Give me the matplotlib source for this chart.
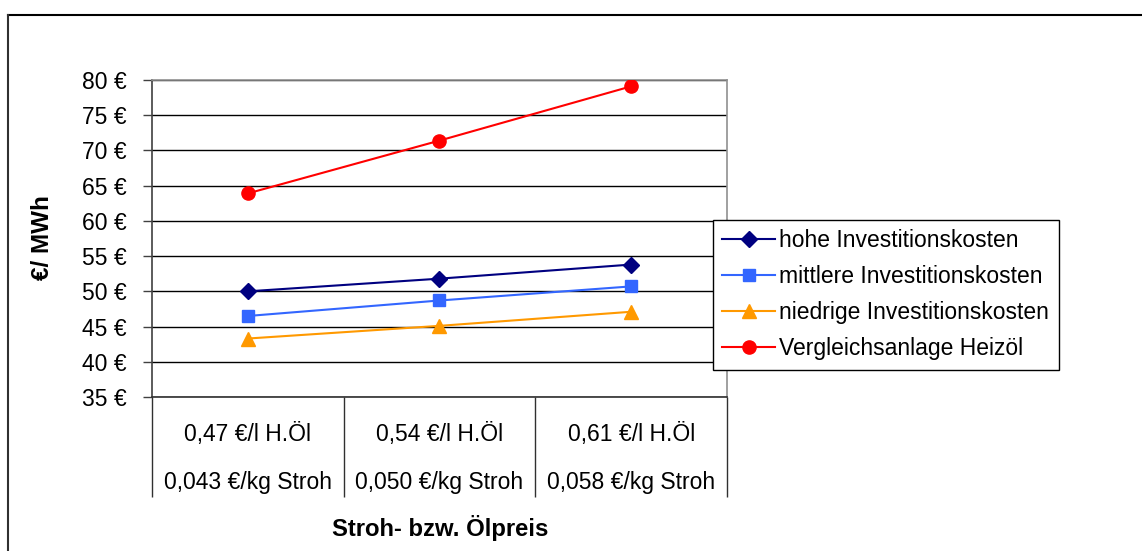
import matplotlib.pyplot as plt
from matplotlib.lines import Line2D

plt.rcParams['font.family'] = ['Liberation Sans', 'DejaVu Sans']

oel_preis = ['0,47 €/l H.Öl', '0,54 €/l H.Öl', '0,61 €/l H.Öl']
stroh_preis = ['0,043 €/kg Stroh', '0,050 €/kg Stroh', '0,058 €/kg Stroh']

hohe = [50.0, 51.8, 53.8]
mittlere = [46.5, 48.7, 50.7]
niedrige = [43.3, 45.1, 47.1]
heizoel = [63.9, 71.4, 79.1]

y_ticks = [35, 40, 45, 50, 55, 60, 65, 70, 75, 80]

W, H = 1142, 551
fig = plt.figure(figsize=(W / 100, H / 100), dpi=100)
ax = fig.add_axes([152 / W, 1 - 397 / H, (727 - 152) / W, (397 - 80) / H])

x = list(range(len(oel_preis)))
fs = 16.5

ax.plot(x, hohe, color='#000080', marker='D', markersize=8.5, lw=1.5, label='hohe Investitionskosten', zorder=3)
ax.plot(x, mittlere, color='#3366FF', marker='s', markersize=9, lw=1.5, label='mittlere Investitionskosten', zorder=3)
ax.plot(x, niedrige, color='#FF9900', marker='^', markersize=10, lw=1.5, label='niedrige Investitionskosten', zorder=3)
ax.plot(x, heizoel, color='#FF0000', marker='o', markersize=9.5, lw=1.5, label='Vergleichsanlage Heizöl', zorder=3)

ax.set_xlim(-0.5, 2.5)
ax.set_ylim(35, 80)
ax.set_yticks(y_ticks)
ax.set_yticklabels([f'{v} €' for v in y_ticks], fontsize=fs)
ax.yaxis.grid(True, color='black', lw=1)
ax.set_axisbelow(True)
ax.tick_params(axis='y', length=6.5, width=1, color='#404040', pad=11.5)

# category table below the axis
ax.set_xticks([-0.5, 0.5, 1.5, 2.5])
ax.set_xticklabels([])
ax.tick_params(axis='x', length=72, width=1, color='#303030', direction='out')
trans = ax.get_xaxis_transform()
for i in x:
    ax.text(i, -38 / 317, oel_preis[i], transform=trans, ha='center', va='center', fontsize=fs)
    ax.text(i, -85 / 317, stroh_preis[i], transform=trans, ha='center', va='center', fontsize=fs)

for s in ['top', 'right']:
    ax.spines[s].set_color('#909090')
ax.spines['left'].set_color('#404040')
ax.spines['bottom'].set_color('#303030')
for s in ax.spines.values():
    s.set_linewidth(1.2)

fig.text(43 / W, 1 - 238 / H, '€/ MWh', rotation=90, ha='center', va='center', fontsize=17.5, fontweight='bold')
fig.text(440 / W, 1 - 528 / H, 'Stroh- bzw. Ölpreis', ha='center', va='center', fontsize=17.2, fontweight='bold')

leg = ax.legend(loc='upper left', bbox_to_anchor=(713 / W, 1 - 220 / H), bbox_transform=fig.transFigure,
                fontsize=fs, frameon=True, fancybox=False, borderaxespad=0, handlelength=2.3,
                handletextpad=0.2, labelspacing=0.57, borderpad=0.4)
leg.get_frame().set_edgecolor('black')
leg.get_frame().set_linewidth(1)
leg.get_frame().set_alpha(1)

# outer chart border
fig.add_artist(Line2D([8 / W, 1], [1 - 15 / H, 1 - 15 / H], color='black', lw=1.5, transform=fig.transFigure))
fig.add_artist(Line2D([8 / W, 8 / W], [0, 1 - 15 / H], color='#303030', lw=1.5, transform=fig.transFigure))

fig.savefig('out.png', dpi=100)
